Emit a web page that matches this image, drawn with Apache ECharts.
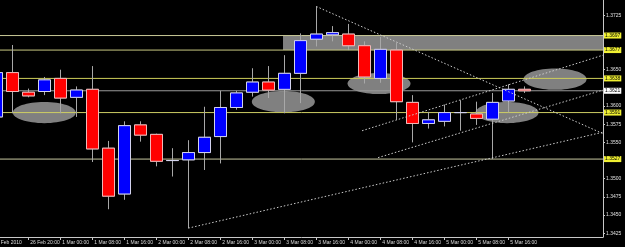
<!DOCTYPE html>
<html><head><meta charset="utf-8">
<script src="https://cdn.jsdelivr.net/npm/echarts@6/dist/echarts.min.js"></script>
<style>html,body{margin:0;padding:0;background:#000}#c{width:625px;height:247px}</style>
</head><body><div id="c"></div>
<script>
// H4 bars, 26 Feb 2010 12:00 .. 5 Mar 2010 20:00
const times = ['26 Feb 12:00','26 Feb 16:00','26 Feb 20:00','28 Feb 20:00','1 Mar 00:00','1 Mar 04:00','1 Mar 08:00','1 Mar 12:00','1 Mar 16:00','1 Mar 20:00',
  '2 Mar 00:00','2 Mar 04:00','2 Mar 08:00','2 Mar 12:00','2 Mar 16:00','2 Mar 20:00','3 Mar 00:00','3 Mar 04:00','3 Mar 08:00','3 Mar 12:00',
  '3 Mar 16:00','3 Mar 20:00','4 Mar 00:00','4 Mar 04:00','4 Mar 08:00','4 Mar 12:00','4 Mar 16:00','4 Mar 20:00','5 Mar 00:00','5 Mar 04:00',
  '5 Mar 08:00','5 Mar 12:00','5 Mar 16:00','5 Mar 20:00'];
const opens  = [1.3585,1.3646,1.3619,1.3620,1.3638,1.3612,1.3623,1.3542,1.3479,1.3574,1.3561,1.3525,1.3526,1.3536,1.3558,1.3598,1.3619,1.3633,1.3623,1.3645,1.3692,1.3698,1.3699,1.3683,1.3638,1.3677,1.3605,1.3576,1.3579,1.3591,1.3589,1.3582,1.3607,1.3623];
const closes = [1.3646,1.3620,1.3614,1.3636,1.3611,1.3622,1.3541,1.3476,1.3573,1.3560,1.3524,1.3525,1.3536,1.3557,1.3598,1.3618,1.3633,1.3622,1.3645,1.3690,1.3699,1.3701,1.3683,1.3640,1.3678,1.3606,1.3576,1.3581,1.3591,1.3591,1.3583,1.3605,1.3623,1.3621];
const lows   = [1.3584,1.3590,1.3612,1.3615,1.3590,1.3585,1.3523,1.3458,1.3471,1.3551,1.3517,1.3503,1.3432,1.3512,1.3521,1.3595,1.3613,1.3611,1.3590,1.3604,1.3682,1.3689,1.3677,1.3631,1.3632,1.3581,1.3550,1.3569,1.3572,1.3566,1.3574,1.3527,1.3591,1.3618];
const highs  = [1.3650,1.3684,1.3624,1.3640,1.3650,1.3627,1.3655,1.3552,1.3579,1.3579,1.3562,1.3542,1.3553,1.3599,1.3621,1.3621,1.3652,1.3655,1.3670,1.3700,1.3737,1.3710,1.3713,1.3689,1.3695,1.3687,1.3615,1.3592,1.3602,1.3608,1.3606,1.3618,1.3630,1.3627];

const firstLabel = '26 Feb 2010';
const xLabelIdx = [2,4,6,8,10,12,14,16,18,20,22,24,26,28,30,32];
const xLabels = ['26 Feb 20:00','1 Mar 00:00','1 Mar 08:00','1 Mar 16:00','2 Mar 00:00','2 Mar 08:00','2 Mar 16:00','3 Mar 00:00','3 Mar 08:00','3 Mar 16:00','4 Mar 00:00','4 Mar 08:00','4 Mar 16:00','5 Mar 00:00','5 Mar 08:00','5 Mar 16:00'];
const yTicks = [1.3425,1.3450,1.3475,1.3500,1.3550,1.3575,1.3600,1.3650,1.3725];

const levels = [1.3697,1.3677,1.3638,1.3621,1.3591,1.3527];
const levelColors = ['#c8c896','#c8c882','#cdcd5a','#9a9a9a','#cdcd64','#c8c8a0'];
const levelLabelBg = ['#f0f032','#f0f032','#f0f032','#ffffff','#f0f032','#f0f032'];

const trendStarts = [[20,1.3737],[22.86,1.3566],[23.86,1.3529],[12,1.3432]];
const trendEnds   = [[37.92,1.3562],[37.92,1.3670],[37.92,1.3622],[37.92,1.3564]];
const ellipseCenters = [[3.0,1.3591],[17.94,1.3606],[23.92,1.3631],[34.92,1.3637],[31.92,1.3591]];
const zoneBoxes = [[17.92,1.3697,37.92,1.3677]];

// layout
const xMin = 0.23125, xMax = 37.919;
const yMax = 1.37459, yMin = 1.34198;
const firstLabelAnchor = 1.6; // right end of the clipped first date label
const FONT = 'Liberation Sans';

const wickData = opens.map((o,i)=>[i,o,closes[i],lows[i],highs[i]]);
const bodyData = opens.map((o,i)=>[i,o,closes[i],Math.min(o,closes[i]),Math.max(o,closes[i])]);

const series = [];
series.push({
  type:'custom', z:1, clip:true, silent:true,
  data: zoneBoxes, encode:{x:[0,2], y:[1,3]},
  renderItem:(params, api)=>{
    const a = api.coord([api.value(0), api.value(1)]);
    const b = api.coord([api.value(2), api.value(3)]);
    return {type:'rect', shape:{x:a[0], y:a[1], width:b[0]-a[0], height:b[1]-a[1]}, style:{fill:'#808080'}};
  }
});
series.push({
  type:'custom', z:1, clip:true, silent:true,
  data: ellipseCenters, encode:{x:0, y:1},
  renderItem:(params, api)=>{
    const p = api.coord([api.value(0), api.value(1)]);
    return {type:'ellipse', shape:{cx:p[0], cy:p[1], rx:31.5, ry:10.6}, style:{fill:'#808080'}};
  }
});
levels.forEach((lv,k)=>{
  series.push({
    type:'line', z:2, silent:true, symbol:'none',
    data:[[xMin,lv],[xMax,lv]],
    lineStyle:{color:levelColors[k], width:1},
    endLabel:{show:true, formatter:()=>lv.toFixed(4), color:'#000', backgroundColor:levelLabelBg[k],
      fontSize:5, fontFamily:FONT, padding:[1,1,0,1], distance:1}
  });
});
series.push({
  type:'candlestick', z:3, silent:true,
  dimensions:['idx','open','close','lowest','highest'],
  encode:{x:0, y:[1,2,3,4]},
  data: wickData, barWidth:12,
  itemStyle:{color:'rgba(0,0,0,0)', color0:'rgba(0,0,0,0)', borderColor:'#a8a8a8', borderColor0:'#a8a8a8', borderWidth:1}
});
series.push({
  type:'candlestick', z:4, silent:true,
  dimensions:['idx','open','close','lowest','highest'],
  encode:{x:0, y:[1,2,3,4]},
  data: bodyData, barWidth:12,
  itemStyle:{color:'#0000ff', color0:'#ff0000', borderColor:'#d2d2ee', borderColor0:'#f0b8b8', borderWidth:1}
});
trendStarts.forEach((s,k)=>{
  series.push({
    type:'line', z:5, silent:true, symbol:'none',
    data:[s, trendEnds[k]],
    lineStyle:{color:'#cccccc', width:1, type:[1.5,2]}
  });
});

const chart = echarts.init(document.getElementById('c'), null, {renderer:'canvas'});
chart.setOption({
  backgroundColor:'#000000',
  animation:false,
  grid:{left:0, right:22, top:0, bottom:10, outerBoundsMode:'none', containLabel:false},
  xAxis:[{
    type:'value', min:xMin, max:xMax, splitLine:{show:false},
    axisLine:{show:true, lineStyle:{color:'#c8c8c8', width:1}},
    axisTick:{show:true, customValues:xLabelIdx, length:3, lineStyle:{color:'#c8c8c8'}},
    axisLabel:{show:true, customValues:xLabelIdx,
      formatter:(v)=>xLabels[xLabelIdx.indexOf(Math.round(v))] || '',
      align:'left', margin:3, padding:[0,0,0,2], color:'#dcdcdc', fontSize:5, fontFamily:FONT}
  },{
    type:'value', min:xMin, max:xMax, position:'bottom', splitLine:{show:false},
    axisLine:{show:false}, axisTick:{show:false},
    axisLabel:{show:true, customValues:[firstLabelAnchor], formatter:()=>firstLabel,
      align:'right', margin:3, color:'#dcdcdc', fontSize:5, fontFamily:FONT}
  }],
  yAxis:{
    type:'value', position:'right', min:yMin, max:yMax, scale:true, splitLine:{show:false},
    axisLine:{show:true, lineStyle:{color:'#c8c8c8', width:1}},
    axisTick:{show:true, customValues:yTicks, length:2, lineStyle:{color:'#c8c8c8'}},
    axisLabel:{show:true, customValues:yTicks, formatter:(v)=>v.toFixed(4), margin:3,
      color:'#e0e0e0', fontSize:5, fontFamily:FONT}
  },
  series
});
</script></body></html>
